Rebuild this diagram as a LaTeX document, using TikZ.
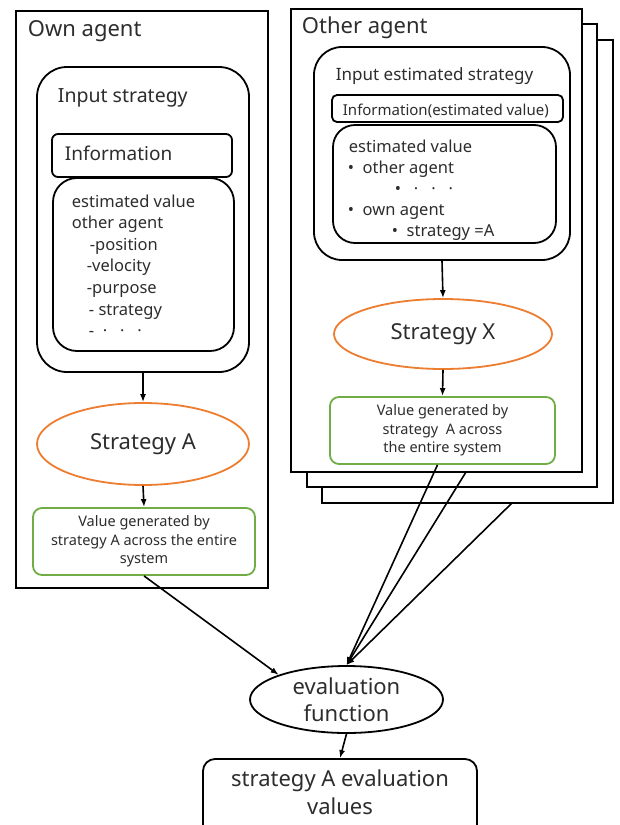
\documentclass[tikz,border=0pt]{standalone}
\usepackage{fontspec}
\setmainfont{Noto Sans}
\usepackage{xcolor}
\usepackage{tikz}
\usetikzlibrary{arrows.meta, positioning, shapes.geometric}
\definecolor{stratorange}{RGB}{237,125,49}
\definecolor{valgreen}{RGB}{112,173,71}
\definecolor{inkgray}{RGB}{45,45,45}

\begin{document}
\begin{tikzpicture}[x=1pt,y=-1pt,line width=1.8pt,
          agentframe/.style={draw,fill=white,inner sep=0pt},
          roundbox/.style={draw,fill=white,inner sep=0pt},
          stratnode/.style={ellipse,draw=stratorange,inner sep=0pt,text=inkgray,
                            font=\fontsize{22}{26}\selectfont},
          valbox/.style={draw=valgreen,rounded corners=9pt,inner sep=0pt,align=center,
                         text=inkgray,font=\fontsize{14.5}{18.5}\selectfont},
          txt/.style={anchor=base west,inner sep=0pt,text=inkgray},
          arr/.style={-{Latex[length=8pt,width=6pt]},line width=1.6pt}]
        \clip (0,0) rectangle (620,825);
        % own agent
        \node[agentframe,minimum width=252pt,minimum height=577pt] (own) at (142,299.5) {};
        \node[txt,font=\fontsize{22}{26}\selectfont] (owntitle) at (27,36) {Own agent};
        \node[roundbox,rounded corners=30pt,minimum width=212pt,minimum height=305pt] (inA) at (143,219.5) {};
        \node[txt,font=\fontsize{19.5}{24}\selectfont] (inAtitle) at (57,102) {Input strategy};
        \node[roundbox,rounded corners=6pt,minimum width=180pt,minimum height=43pt] (infoA) at (142,155.5) {};
        \node[txt,font=\fontsize{19}{24}\selectfont] (infoAtext) at (64,160) {Information};
        \node[roundbox,rounded corners=24pt,minimum width=181pt,minimum height=173pt] (estA) at (143.5,264.5) {};
        \foreach \lx/\ly/\ln in {71/207/estimated value, 71/228/other agent, 89/250/-position,
                                 86/271/-velocity, 86/293/-purpose, 88/315/- strategy,
                                 88/336/-\ \ ·\ \ \ ·\ \ \ ·}
          \node[txt,font=\fontsize{16.5}{20}\selectfont] (estAline\ly) at (\lx,\ly) {\ln};
        \node[stratnode,minimum width=212pt,minimum height=82pt] (stratA) at (143,444) {Strategy A};
        \node[valbox,minimum width=222pt,minimum height=67pt] (valA) at (144,541.5)
          {Value generated by\\strategy A across the entire\\system};
        \draw[arr] (inA.south) -- (stratA.north);
        \draw[arr] (stratA.south) -- (valA.north);
        % other agents (stacked sheets)
        \node[agentframe,minimum width=291pt,minimum height=463pt] (sheetC) at (467.5,271.5) {};
        \node[agentframe,minimum width=290pt,minimum height=463pt] (sheetB) at (452,255.5) {};
        \node[agentframe,minimum width=291pt,minimum height=463pt] (other) at (436.5,240.5) {};
        \node[txt,font=\fontsize{22}{26}\selectfont] (othertitle) at (301,33) {Other agent};
        \node[roundbox,rounded corners=28pt,minimum width=256pt,minimum height=213pt] (inX) at (442,153.5) {};
        \node[txt,font=\fontsize{17}{21}\selectfont] (inXtitle) at (335,80) {Input estimated strategy};
        \node[roundbox,rounded corners=5pt,minimum width=231pt,minimum height=27pt] (infoX) at (447.5,108.5) {};
        \node[txt,font=\fontsize{15}{18}\selectfont] (infoXtext) at (342,115) {Information(estimated value)};
        \node[roundbox,rounded corners=22pt,minimum width=223pt,minimum height=118pt] (estX) at (444.5,184) {};
        \foreach \lx/\ly/\ln in {348/152/estimated value, 347/173/\textbullet\ \ other agent,
                                 394/194/\textbullet\ \ \ ·\ \ \ ·\ \ \ ·, 347/215/\textbullet\ \ own agent,
                                 391/236/\textbullet\ \ strategy =A}
          \node[txt,font=\fontsize{16.5}{20}\selectfont] (estXline\ly) at (\lx,\ly) {\ln};
        \node[stratnode,minimum width=218pt,minimum height=70pt] (stratX) at (443,334) {Strategy X};
        \node[valbox,minimum width=225pt,minimum height=67pt] (valX) at (442.5,430.5)
          {Value generated by\\strategy\ \ A across\\the entire system};
        \draw[arr] (inX.south) -- (stratX.north);
        \draw[arr] (stratX.south) -- (valX.north);
        % evaluation
        \node[ellipse,draw,inner sep=0pt,minimum width=193pt,minimum height=67pt,align=center,
              text=inkgray,font=\fontsize{22}{27}\selectfont] (eval) at (346.5,699.5) {evaluation\\function};
        \node[roundbox,rounded corners=12pt,minimum width=274pt,minimum height=81pt] (res) at (340,799.5) {};
        \node[align=center,inner sep=0pt,text=inkgray,font=\fontsize{22}{28}\selectfont] (restext) at (340,792)
          {strategy A evaluation\\values};
        \coordinate (tailB) at (466,472);
        \coordinate (tailC) at (512,503);
        \draw[arr] (valA.south) -- (eval.160);
        \draw[arr] ([xshift=-5pt]valX.south) -- (eval.north);
        \draw[arr] (tailB) -- (eval.north);
        \draw[arr] (tailC) -- (eval.north);
        \draw[arr] (eval.south) -- (res.north);
      \end{tikzpicture}
\end{document}
